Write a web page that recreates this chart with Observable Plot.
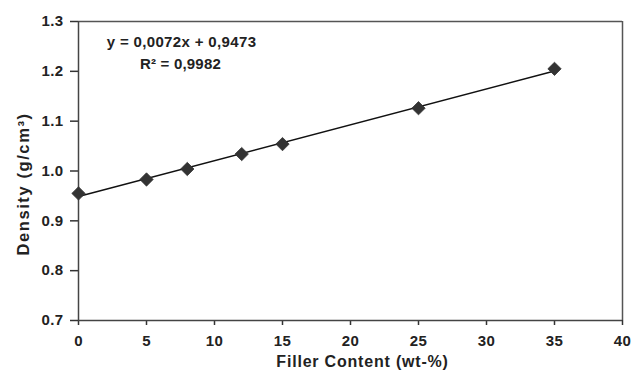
<!DOCTYPE html>
<html>
<head>
<meta charset="utf-8">
<script src="https://cdn.jsdelivr.net/npm/d3@7"></script>
<script src="https://cdn.jsdelivr.net/npm/@observablehq/plot@0.6"></script>
<style>
  html, body { margin: 0; padding: 0; background: #fff; }
  svg { display: block; }
</style>
</head>
<body>
<div id="chart"></div>
<script>
const fillerContent = [0, 5, 8, 12, 15, 25, 35];
const density = [0.955, 0.983, 1.004, 1.034, 1.054, 1.126, 1.205];
const xTicks = [0, 5, 10, 15, 20, 25, 30, 35, 40];
const yTicks = [0.7, 0.8, 0.9, 1.0, 1.1, 1.2, 1.3];
const xLabel = "Filler Content (wt-%)";
const yLabel = "Density (g/cm\u00B3)";
const equationText = "y = 0,0072x + 0,9473";
const r2Text = "R\u00B2 = 0,9982";

const data = fillerContent.map((x, i) => ({x, y: density[i]}));

const font = "'Liberation Sans', Arial, sans-serif";

const chart = Plot.plot({
  width: 632,
  height: 375,
  marginLeft: 78,
  marginRight: 10,
  marginTop: 21,
  marginBottom: 55,
  style: {fontFamily: font, fontSize: "14px", fontWeight: "bold", color: "#222", background: "#fff", overflow: "visible"},
  x: {domain: [xTicks[0], xTicks[xTicks.length - 1]]},
  y: {domain: [yTicks[0], yTicks[yTicks.length - 1]]},
  marks: [
    Plot.ruleY([yTicks[yTicks.length - 1]], {stroke: "#555", strokeWidth: 1.5}),
    Plot.ruleX([xTicks[xTicks.length - 1]], {stroke: "#555", strokeWidth: 1.5}),
    Plot.axisX({ticks: xTicks, tickSize: 5, tickPadding: 10, stroke: "#333", strokeWidth: 1.5, strokeOpacity: 1, fontSize: 15, fontWeight: "bold", fill: "#222", label: null}),
    Plot.axisY({ticks: yTicks, tickFormat: d3.format(".1f"), tickSize: 8, tickPadding: 7, stroke: "#333", strokeWidth: 1.5, strokeOpacity: 1, fontSize: 15, fontWeight: "bold", fill: "#222", label: null}),
    Plot.ruleX([xTicks[0]], {stroke: "#444", strokeWidth: 1.5}),
    Plot.ruleY([yTicks[0]], {stroke: "#444", strokeWidth: 1.5}),
    Plot.linearRegressionY(data, {x: "x", y: "y", ci: 0, stroke: "#111", strokeWidth: 1.5}),
    Plot.dot(data, {x: "x", y: "y", symbol: "diamond2", r: 6, fill: "#333", stroke: "#333", strokeWidth: 0.8}),
    Plot.text([equationText], {text: d => d, frameAnchor: "top-left", textAnchor: "middle", dx: 103, dy: 15, fontSize: 15, fontWeight: "bold", fill: "#222"}),
    Plot.text([r2Text], {text: d => d, frameAnchor: "top-left", textAnchor: "middle", dx: 102, dy: 37, fontSize: 15, fontWeight: "bold", fill: "#222"}),
    Plot.text([xLabel], {text: d => d, frameAnchor: "bottom", textAnchor: "middle", dx: 12, dy: 46, fontSize: 16, fontWeight: "bold", fill: "#222"}),
    Plot.text([yLabel], {text: d => d, frameAnchor: "left", textAnchor: "middle", rotate: -90, dx: -55, dy: 13, fontSize: 16.5, fontWeight: "bold", fill: "#222"})
  ]
});
const spacing = new Map([[equationText, 0.35], [r2Text, 0.2], [xLabel, 0.8], [yLabel, 1.6]]);
d3.select(chart).selectAll("text").each(function() {
  const t = this.textContent;
  const ls = spacing.has(t) ? spacing.get(t) : (this.closest('g[aria-label$="tick label"]') ? 0.4 : 0);
  if (ls) {
    this.setAttribute("letter-spacing", ls + "px");
    this.style.letterSpacing = ls + "px";
  }
});
document.getElementById("chart").appendChild(chart);
</script>
</body>
</html>
